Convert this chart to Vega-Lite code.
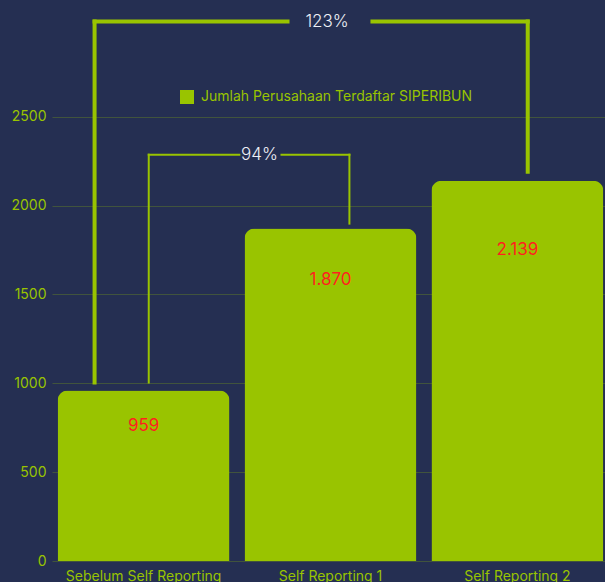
{
  "$schema": "https://vega.github.io/schema/vega-lite/v6.json",
  "width": 557,
  "height": 551,
  "autosize": "none",
  "padding": {"left": 52, "top": 10, "right": 0, "bottom": 21},
  "background": "#252f52",
  "config": {
    "view": {"stroke": null},
    "font": "Inter",
    "locale": {"number": {"decimal": ",", "thousands": ".", "grouping": [3], "currency": ["Rp", ""]}},
    "axis": {"labelColor": "#99c400", "labelFontSize": 14, "labelFont": "Inter", "ticks": false, "domain": false, "title": null},
    "legend": {"orient": "none", "legendX": 128, "legendY": 80, "symbolType": "square", "symbolSize": 196, "symbolStrokeWidth": 0, "labelColor": "#99c400", "labelFontSize": 14, "labelFont": "Inter", "labelOffset": 7, "labelLimit": 500, "title": null}
  },
  "datasets": {
    "bars": [
      {"kategori": "Sebelum Self Reporting", "jumlah": 959, "seri": "Jumlah Perusahaan Terdaftar SIPERIBUN"},
      {"kategori": "Self Reporting 1", "jumlah": 1870, "seri": "Jumlah Perusahaan Terdaftar SIPERIBUN"},
      {"kategori": "Self Reporting 2", "jumlah": 2139, "seri": "Jumlah Perusahaan Terdaftar SIPERIBUN"}
    ],
    "brackets": [
      {"label": "123%", "from": "Sebelum Self Reporting", "mid": "Self Reporting 1", "to": "Self Reporting 2", "level": 3035, "fromValue": 959, "toValue": 2139},
      {"label": "94%", "from": "Sebelum Self Reporting", "mid": "Self Reporting 1", "to": "Self Reporting 1", "level": 2286, "fromValue": 959, "toValue": 1870}
    ]
  },
  "layer": [
    {
      "data": {"name": "bars"},
      "mark": {"type": "bar", "cornerRadiusTopLeft": 10, "cornerRadiusTopRight": 10},
      "encoding": {
        "x": {"field": "kategori", "type": "nominal", "scale": {"domain": ["Sebelum Self Reporting", "Self Reporting 1", "Self Reporting 2"], "paddingInner": 0.08, "paddingOuter": 0.03}, "axis": {"labelAngle": 0, "labelPadding": 8, "grid": false, "title": null}},
        "y": {"field": "jumlah", "type": "quantitative", "scale": {"domain": [0, 3100], "nice": false}, "axis": {"values": [0, 500, 1000, 1500, 2000, 2500], "format": "d", "labelPadding": 6, "grid": true, "gridColor": "#99c400", "gridOpacity": 0.25, "gridWidth": 1, "title": null}},
        "color": {"field": "seri", "type": "nominal", "scale": {"range": ["#99c400"]}}
      }
    },
    {
      "data": {"name": "bars"},
      "transform": [{"filter": "datum.jumlah == 959"}],
      "mark": {"type": "text", "fill": "#ff1f1f", "fontSize": 17, "baseline": "middle", "dy": 35},
      "encoding": {
        "x": {"field": "kategori", "type": "nominal", "scale": {"domain": ["Sebelum Self Reporting", "Self Reporting 1", "Self Reporting 2"]}},
        "y": {"field": "jumlah", "type": "quantitative", "scale": {"domain": [0, 3100], "nice": false}},
        "text": {"field": "jumlah", "type": "quantitative", "format": ","}
      }
    },
    {
      "data": {"name": "bars"},
      "transform": [{"filter": "datum.jumlah == 1870"}],
      "mark": {"type": "text", "fill": "#ff1f1f", "fontSize": 17, "baseline": "middle", "dy": 51},
      "encoding": {
        "x": {"field": "kategori", "type": "nominal", "scale": {"domain": ["Sebelum Self Reporting", "Self Reporting 1", "Self Reporting 2"]}},
        "y": {"field": "jumlah", "type": "quantitative", "scale": {"domain": [0, 3100], "nice": false}},
        "text": {"field": "jumlah", "type": "quantitative", "format": ","}
      }
    },
    {
      "data": {"name": "bars"},
      "transform": [{"filter": "datum.jumlah == 2139"}],
      "mark": {"type": "text", "fill": "#ff1f1f", "fontSize": 17, "baseline": "middle", "dy": 69},
      "encoding": {
        "x": {"field": "kategori", "type": "nominal", "scale": {"domain": ["Sebelum Self Reporting", "Self Reporting 1", "Self Reporting 2"]}},
        "y": {"field": "jumlah", "type": "quantitative", "scale": {"domain": [0, 3100], "nice": false}},
        "text": {"field": "jumlah", "type": "quantitative", "format": ","}
      }
    },
    {
      "data": {"name": "brackets"},
      "transform": [{"filter": "datum.label == '123%'"}],
      "mark": {"type": "rule", "color": "#99c400", "strokeWidth": 4, "strokeCap": "square", "y2Offset": -8},
      "encoding": {
        "x": {"field": "from", "type": "nominal", "bandPosition": 0.215, "scale": {"domain": ["Sebelum Self Reporting", "Self Reporting 1", "Self Reporting 2"]}},
        "y": {"field": "level", "type": "quantitative", "scale": {"domain": [0, 3100], "nice": false}},
        "y2": {"field": "fromValue"}
      }
    },
    {
      "data": {"name": "brackets"},
      "transform": [{"filter": "datum.label == '123%'"}],
      "mark": {"type": "rule", "color": "#99c400", "strokeWidth": 4, "strokeCap": "square", "y2Offset": -9},
      "encoding": {
        "x": {"field": "to", "type": "nominal", "bandPosition": 0.56, "scale": {"domain": ["Sebelum Self Reporting", "Self Reporting 1", "Self Reporting 2"]}},
        "y": {"field": "level", "type": "quantitative", "scale": {"domain": [0, 3100], "nice": false}},
        "y2": {"field": "toValue"}
      }
    },
    {
      "data": {"name": "brackets"},
      "transform": [{"filter": "datum.label == '123%'"}],
      "mark": {"type": "rule", "color": "#99c400", "strokeWidth": 4, "strokeCap": "square"},
      "encoding": {
        "x": {"field": "from", "type": "nominal", "bandPosition": 0.215, "scale": {"domain": ["Sebelum Self Reporting", "Self Reporting 1", "Self Reporting 2"]}},
        "x2": {"field": "mid", "bandPosition": 0.25},
        "y": {"field": "level", "type": "quantitative", "scale": {"domain": [0, 3100], "nice": false}}
      }
    },
    {
      "data": {"name": "brackets"},
      "transform": [{"filter": "datum.label == '123%'"}],
      "mark": {"type": "rule", "color": "#99c400", "strokeWidth": 4, "strokeCap": "square"},
      "encoding": {
        "x": {"field": "mid", "type": "nominal", "bandPosition": 0.744, "scale": {"domain": ["Sebelum Self Reporting", "Self Reporting 1", "Self Reporting 2"]}},
        "x2": {"field": "to", "bandPosition": 0.56},
        "y": {"field": "level", "type": "quantitative", "scale": {"domain": [0, 3100], "nice": false}}
      }
    },
    {
      "data": {"name": "brackets"},
      "transform": [{"filter": "datum.label == '123%'"}],
      "mark": {"type": "text", "fill": "#eef0f6", "fontSize": 17, "fontWeight": 300, "baseline": "middle", "align": "center"},
      "encoding": {
        "x": {"field": "mid", "type": "nominal", "bandPosition": 0.48, "scale": {"domain": ["Sebelum Self Reporting", "Self Reporting 1", "Self Reporting 2"]}},
        "y": {"field": "level", "type": "quantitative", "scale": {"domain": [0, 3100], "nice": false}},
        "text": {"field": "label"}
      }
    },
    {
      "data": {"name": "brackets"},
      "transform": [{"filter": "datum.label == '94%'"}],
      "mark": {"type": "rule", "color": "#99c400", "strokeWidth": 2, "strokeCap": "square", "y2Offset": -8},
      "encoding": {
        "x": {"field": "from", "type": "nominal", "bandPosition": 0.53, "scale": {"domain": ["Sebelum Self Reporting", "Self Reporting 1", "Self Reporting 2"]}},
        "y": {"field": "level", "type": "quantitative", "scale": {"domain": [0, 3100], "nice": false}},
        "y2": {"field": "fromValue"}
      }
    },
    {
      "data": {"name": "brackets"},
      "transform": [{"filter": "datum.label == '94%'"}],
      "mark": {"type": "rule", "color": "#99c400", "strokeWidth": 2, "strokeCap": "square", "y2Offset": -5},
      "encoding": {
        "x": {"field": "to", "type": "nominal", "bandPosition": 0.61, "scale": {"domain": ["Sebelum Self Reporting", "Self Reporting 1", "Self Reporting 2"]}},
        "y": {"field": "level", "type": "quantitative", "scale": {"domain": [0, 3100], "nice": false}},
        "y2": {"field": "toValue"}
      }
    },
    {
      "data": {"name": "brackets"},
      "transform": [{"filter": "datum.label == '94%'"}],
      "mark": {"type": "rule", "color": "#99c400", "strokeWidth": 2, "strokeCap": "square"},
      "encoding": {
        "x": {"field": "from", "type": "nominal", "bandPosition": 0.53, "scale": {"domain": ["Sebelum Self Reporting", "Self Reporting 1", "Self Reporting 2"]}},
        "x2": {"field": "mid", "bandPosition": -0.03},
        "y": {"field": "level", "type": "quantitative", "scale": {"domain": [0, 3100], "nice": false}}
      }
    },
    {
      "data": {"name": "brackets"},
      "transform": [{"filter": "datum.label == '94%'"}],
      "mark": {"type": "rule", "color": "#99c400", "strokeWidth": 2, "strokeCap": "square"},
      "encoding": {
        "x": {"field": "mid", "type": "nominal", "bandPosition": 0.215, "scale": {"domain": ["Sebelum Self Reporting", "Self Reporting 1", "Self Reporting 2"]}},
        "x2": {"field": "to", "bandPosition": 0.61},
        "y": {"field": "level", "type": "quantitative", "scale": {"domain": [0, 3100], "nice": false}}
      }
    },
    {
      "data": {"name": "brackets"},
      "transform": [{"filter": "datum.label == '94%'"}],
      "mark": {"type": "text", "fill": "#eef0f6", "fontSize": 17, "fontWeight": 300, "baseline": "middle", "align": "center"},
      "encoding": {
        "x": {"field": "mid", "type": "nominal", "bandPosition": 0.087, "scale": {"domain": ["Sebelum Self Reporting", "Self Reporting 1", "Self Reporting 2"]}},
        "y": {"field": "level", "type": "quantitative", "scale": {"domain": [0, 3100], "nice": false}},
        "text": {"field": "label"}
      }
    }
  ]
}
